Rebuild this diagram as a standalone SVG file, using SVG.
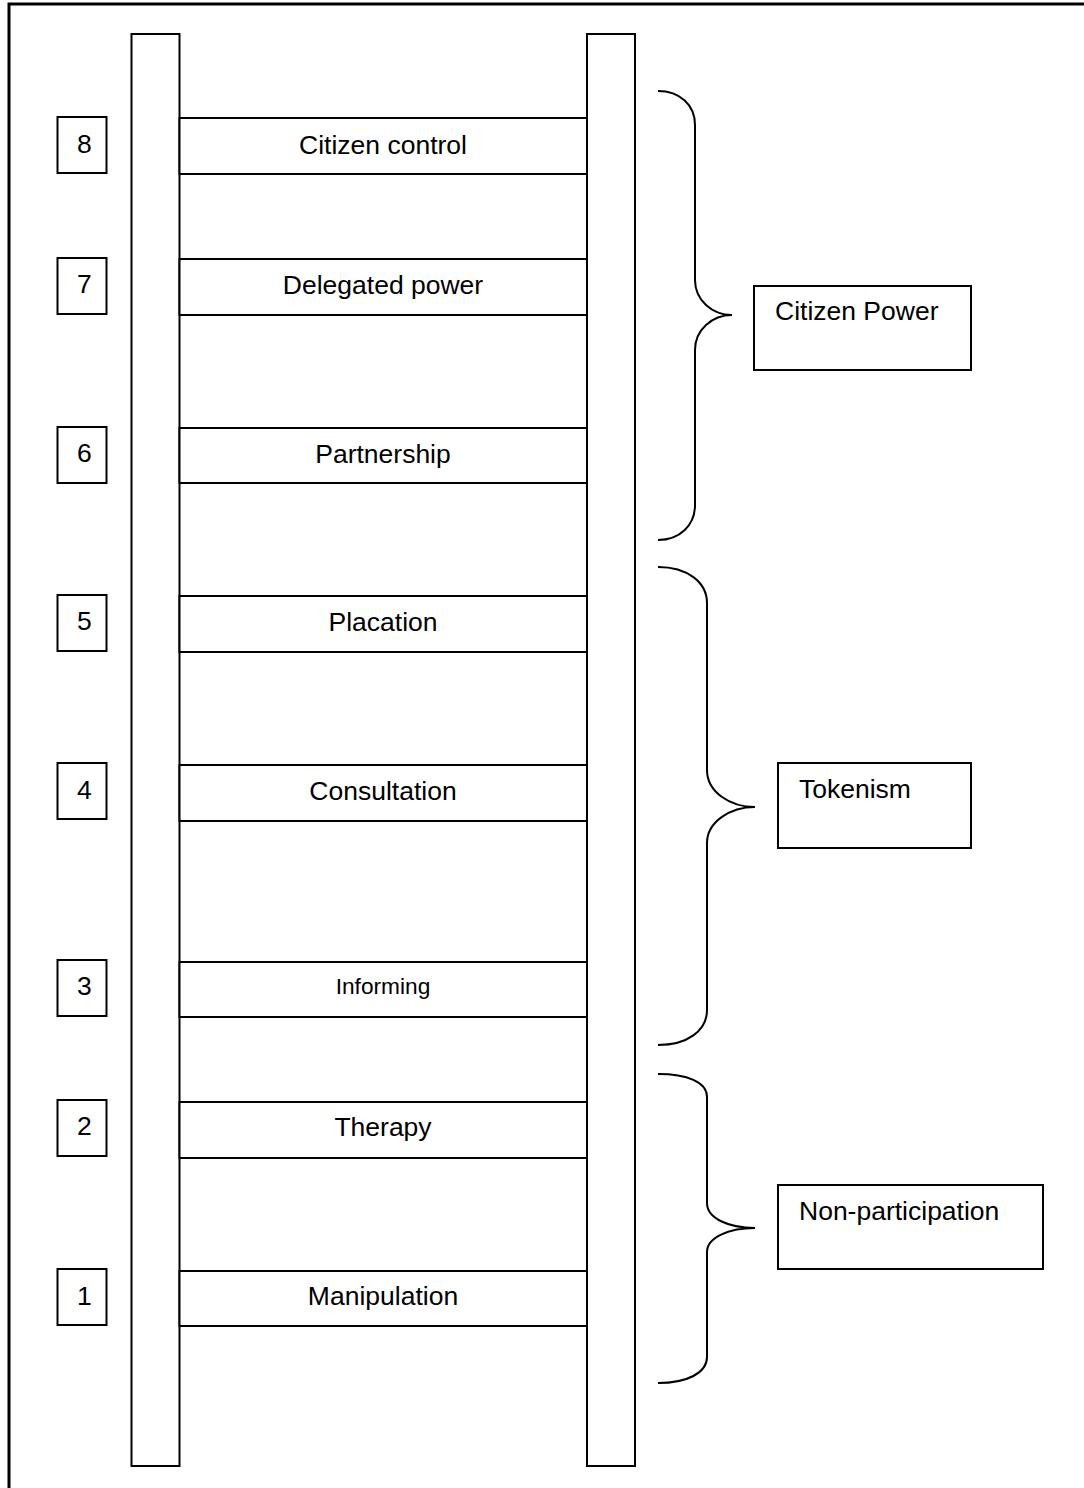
<svg xmlns="http://www.w3.org/2000/svg" width="1084" height="1488" viewBox="0 0 1084 1488">
<style>
  .box { fill: #ffffff; stroke: #000000; stroke-width: 2; }
  .frame { fill: none; stroke: #000000; stroke-width: 3; }
  .brace { fill: none; stroke: #000000; stroke-width: 2; }
  text { font-family: "Liberation Sans", Arial, sans-serif; font-size: 26.5px; fill: #000000; }
  .c { text-anchor: middle; }
  .small { font-size: 22.7px; }
</style>
<rect x="0" y="0" width="1084" height="1488" fill="#ffffff"/>
<rect class="frame" x="9" y="4" width="1100" height="1500"/>

<g id="rails">
  <rect id="rail-left" class="box" x="131.5" y="34" width="48" height="1432"/>
  <rect id="rail-right" class="box" x="587" y="34" width="48" height="1432"/>
</g>

<g id="rung-8"><rect class="box" x="179.5" y="118" width="407.5" height="56"/><text class="c" x="383" y="154">Citizen control</text></g>
<g id="rung-7"><rect class="box" x="179.5" y="259" width="407.5" height="56"/><text class="c" x="383" y="294">Delegated power</text></g>
<g id="rung-6"><rect class="box" x="179.5" y="428" width="407.5" height="55"/><text class="c" x="383" y="463">Partnership</text></g>
<g id="rung-5"><rect class="box" x="179.5" y="596" width="407.5" height="56"/><text class="c" x="383" y="631">Placation</text></g>
<g id="rung-4"><rect class="box" x="179.5" y="765" width="407.5" height="56"/><text class="c" x="383" y="800">Consultation</text></g>
<g id="rung-3"><rect class="box" x="179.5" y="962" width="407.5" height="55"/><text class="c small" x="383" y="994">Informing</text></g>
<g id="rung-2"><rect class="box" x="179.5" y="1102" width="407.5" height="56"/><text class="c" x="383" y="1136">Therapy</text></g>
<g id="rung-1"><rect class="box" x="179.5" y="1271" width="407.5" height="55"/><text class="c" x="383" y="1305">Manipulation</text></g>

<g id="num-8"><rect class="box" x="57.5" y="117" width="49" height="56"/><text x="77" y="153">8</text></g>
<g id="num-7"><rect class="box" x="57.5" y="258" width="49" height="56"/><text x="77" y="293">7</text></g>
<g id="num-6"><rect class="box" x="57.5" y="427" width="49" height="56"/><text x="77" y="462">6</text></g>
<g id="num-5"><rect class="box" x="57.5" y="595" width="49" height="56"/><text x="77" y="630">5</text></g>
<g id="num-4"><rect class="box" x="57.5" y="763" width="49" height="56"/><text x="77" y="799">4</text></g>
<g id="num-3"><rect class="box" x="57.5" y="960" width="49" height="56"/><text x="77" y="995">3</text></g>
<g id="num-2"><rect class="box" x="57.5" y="1100" width="49" height="56"/><text x="77" y="1135">2</text></g>
<g id="num-1"><rect class="box" x="57.5" y="1269" width="49" height="56"/><text x="77" y="1305">1</text></g>

<g id="connectors">
  <path class="brace" d="M658,91 C680,91 695,105 695,125 L695,280 C695,300 712,315 732,315 C712,315 695,330 695,350 L695,505 C695,525 680,540 658,540"/>
  <path class="brace" d="M658,567 C687,567 707,582 707,603 L707,770 C707,792 730,807 755,807 C730,807 707,822 707,843 L707,1010 C707,1031 687,1045 658,1045"/>
  <path class="brace" d="M658,1074 C687,1074 707,1082 707,1097 L707,1203 C707,1219 730,1228 755,1228 C730,1228 707,1237 707,1252 L707,1357 C707,1373 687,1383 658,1383"/>
</g>

<g id="group-citizen-power"><rect class="box" x="754" y="286" width="217" height="84"/><text x="775" y="320">Citizen Power</text></g>
<g id="group-tokenism"><rect class="box" x="778" y="763" width="193" height="85"/><text x="799" y="798">Tokenism</text></g>
<g id="group-non-participation"><rect class="box" x="778" y="1185" width="265" height="84"/><text x="799" y="1220">Non-participation</text></g>
</svg>
